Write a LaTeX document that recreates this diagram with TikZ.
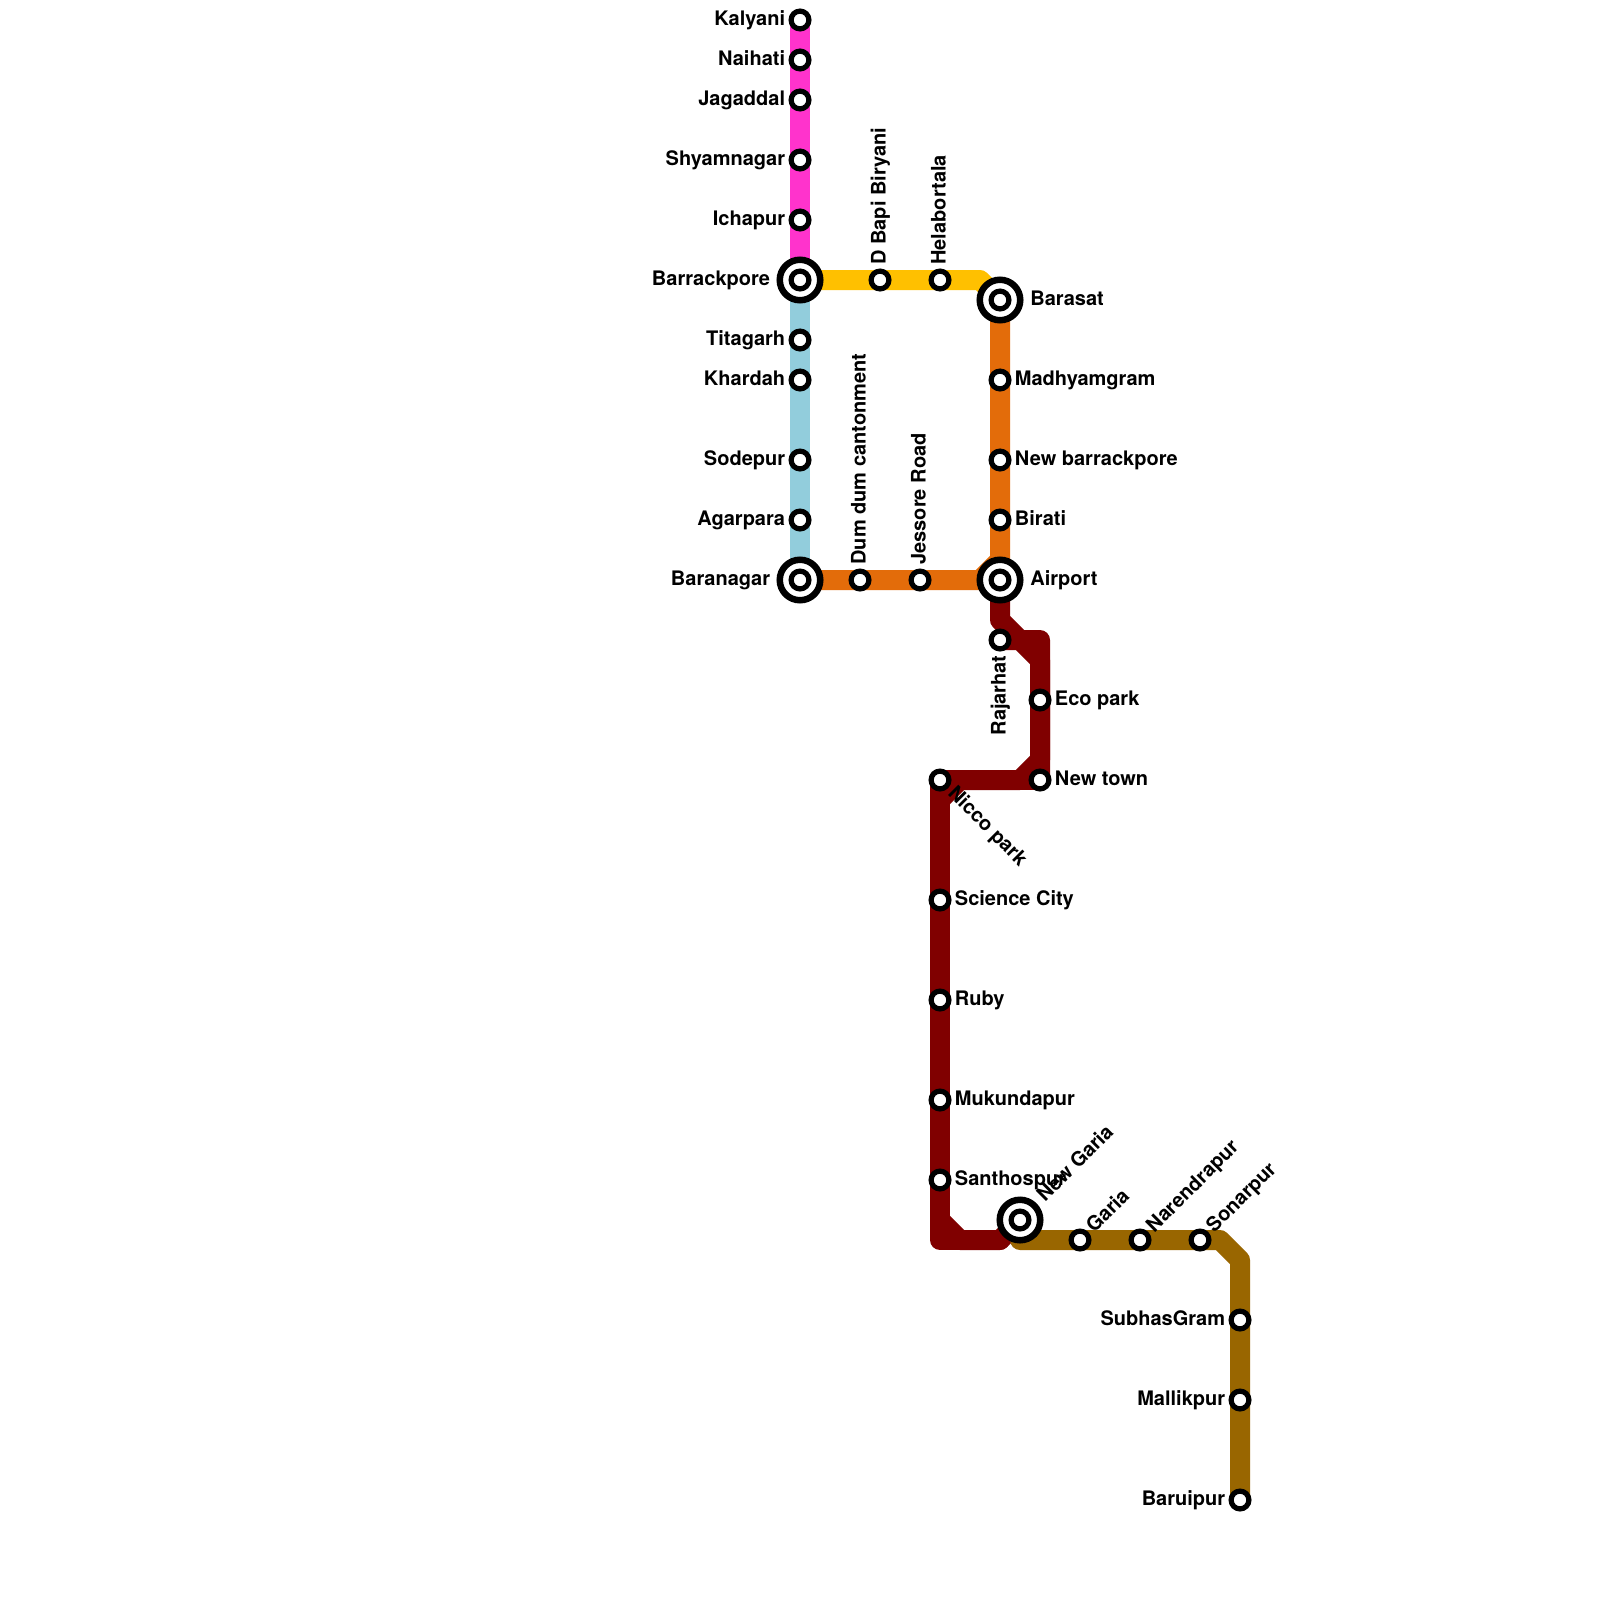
\documentclass[tikz,border=0pt]{standalone}
\usepackage{fontspec}
\setmainfont{TeX Gyre Heros}
\usetikzlibrary{backgrounds}
\definecolor{cpink}{HTML}{FF33CC}
\definecolor{cblue}{HTML}{92CDDC}
\definecolor{cyellow}{HTML}{FFC000}
\definecolor{corange}{HTML}{E36C0A}
\definecolor{cred}{HTML}{800000}
\definecolor{cbrown}{HTML}{996600}
\tikzset{
  line/.style={line width=10pt,line join=round,line cap=round},
  stn/.style={circle,draw=black,fill=white,line width=2.6pt,minimum size=8.9pt,inner sep=0pt},
  hub/.style={circle,draw=black,fill=white,line width=3.25pt,minimum size=20.25pt,inner sep=0pt},
  lbl/.style={inner sep=0pt,font=\bfseries\fontsize{10pt}{10pt}\selectfont,text height=7pt,text depth=1.5pt},
  lr/.style={lbl,anchor=west,xshift=7.25pt},
  ll/.style={lbl,anchor=east,xshift=-7.25pt},
  lu/.style={lbl,rotate=90,anchor=west,xshift=7.5pt},
  ld/.style={lbl,rotate=90,anchor=east,xshift=-7.5pt},
  lne/.style={lbl,rotate=45,anchor=west,xshift=7.25pt},
  lse/.style={lbl,rotate=-45,anchor=west,xshift=7.5pt},
  hr/.style={lbl,anchor=west,xshift=15pt},
  hl/.style={lbl,anchor=east,xshift=-14.75pt},
  hne/.style={lbl,rotate=45,anchor=west,xshift=14.75pt},
}
\begin{document}
\begin{tikzpicture}[x=0.5pt,y=-0.5pt]
\useasboundingbox (0,0) rectangle (1600,1600);
% hubs
\node[hub] (barrackporeH) at (800,280) {};
\node[hub] (baranagarH) at (800,580) {};
\node[hub] (barasatH) at (1000,300) {};
\node[hub] (airportH) at (1000,580) {};
\node[hub] (newgariaH) at (1020,1220) {};
% stations
\foreach \n/\x/\y in {kalyani/800/20,naihati/800/60,jagaddal/800/100,shyamnagar/800/160,ichapur/800/220,
  barrackpore/800/280,titagarh/800/340,khardah/800/380,sodepur/800/460,agarpara/800/520,baranagar/800/580,
  dumdum/860/580,jessore/920/580,airport/1000/580,bapi/880/280,helabortala/940/280,barasat/1000/300,
  madhyamgram/1000/380,newbarrackpore/1000/460,birati/1000/520,rajarhat/1000/640,ecopark/1040/700,
  newtown/1040/780,nicco/940/780,science/940/900,ruby/940/1000,mukundapur/940/1100,santhospur/940/1180,
  newgaria/1020/1220,garia/1080/1240,narendrapur/1140/1240,sonarpur/1200/1240,subhasgram/1240/1320,
  mallikpur/1240/1400,baruipur/1240/1500}
  {\node[stn] (\n) at (\x,\y) {};}
% waypoints
\coordinate (y1) at (980,280);
\coordinate (o1) at (980,580);
\coordinate (o2) at (1000,560);
\coordinate (r1) at (1000,620);
\coordinate (r2) at (1020,640);
\coordinate (r3) at (1040,640);
\coordinate (r4) at (1040,660);
\coordinate (r5) at (1040,760);
\coordinate (r6) at (1020,780);
\coordinate (r7) at (960,780);
\coordinate (r8) at (940,800);
\coordinate (r9) at (940,1240);
\coordinate (r10) at (940,1220);
\coordinate (r11) at (960,1240);
\coordinate (r12) at (1000,1240);
\coordinate (b0) at (1020,1240);
\coordinate (b1) at (1220,1240);
\coordinate (b2) at (1240,1260);
% lines
\begin{scope}[on background layer]
\fill[white] (0,0) rectangle (1600,1600);
\draw[line,cpink] (kalyani.center) -- (barrackpore.center);
\draw[line,cblue] (barrackpore.center) -- (baranagar.center);
\draw[line,cyellow] (barrackpore.center) -- (y1) -- (barasat.center);
\draw[line,corange] (baranagar.center) -- (o1) -- (o2) -- (barasat.center);
\draw[line,cred] (airport.center) -- (r1) -- (r2) -- (r3) -- (newtown.center);
\draw[line,cred] (rajarhat.center) -- (r2) -- (r4) -- (r5) -- (r6) -- (r7) -- (r8) -- (nicco.center);
\draw[line,cred] (newtown.center) -- (nicco.center) -- (r9) -- (r12);
\draw[line,cred] (r10) -- (r11) -- (r12) -- (newgaria.center);
\draw[line,cbrown] (b0) -- (b1) -- (b2) -- (baruipur.center);
\end{scope}
% labels
\node[ll] (t1) at (kalyani) {Kalyani};
\node[ll] (t2) at (naihati) {Naihati};
\node[ll] (t3) at (jagaddal) {Jagaddal};
\node[ll] (t4) at (shyamnagar) {Shyamnagar};
\node[ll] (t5) at (ichapur) {Ichapur};
\node[hl] (t6) at (barrackpore) {Barrackpore};
\node[ll] (t7) at (titagarh) {Titagarh};
\node[ll] (t8) at (khardah) {Khardah};
\node[ll] (t9) at (sodepur) {Sodepur};
\node[ll] (t10) at (agarpara) {Agarpara};
\node[hl] (t11) at (baranagar) {Baranagar};
\node[lu] (t12) at (dumdum) {Dum dum cantonment};
\node[lu] (t13) at (jessore) {Jessore Road};
\node[hr] (t14) at (airport) {Airport};
\node[lu] (t15) at (bapi) {D Bapi Biryani};
\node[lu] (t16) at (helabortala) {Helabortala};
\node[hr] (t17) at (barasat) {Barasat};
\node[lr] (t18) at (madhyamgram) {Madhyamgram};
\node[lr] (t19) at (newbarrackpore) {New barrackpore};
\node[lr] (t20) at (birati) {Birati};
\node[ld] (t21) at (rajarhat) {Rajarhat};
\node[lr] (t22) at (ecopark) {Eco park};
\node[lr] (t23) at (newtown) {New town};
\node[lse] (t24) at (nicco) {Nicco park};
\node[lr] (t25) at (science) {Science City};
\node[lr] (t26) at (ruby) {Ruby};
\node[lr] (t27) at (mukundapur) {Mukundapur};
\node[lr] (t28) at (santhospur) {Santhospur};
\node[hne] (t29) at (newgaria) {New Garia};
\node[lne] (t30) at (garia) {Garia};
\node[lne] (t31) at (narendrapur) {Narendrapur};
\node[lne] (t32) at (sonarpur) {Sonarpur};
\node[ll] (t33) at (subhasgram) {SubhasGram};
\node[ll] (t34) at (mallikpur) {Mallikpur};
\node[ll] (t35) at (baruipur) {Baruipur};
\end{tikzpicture}
\end{document}
